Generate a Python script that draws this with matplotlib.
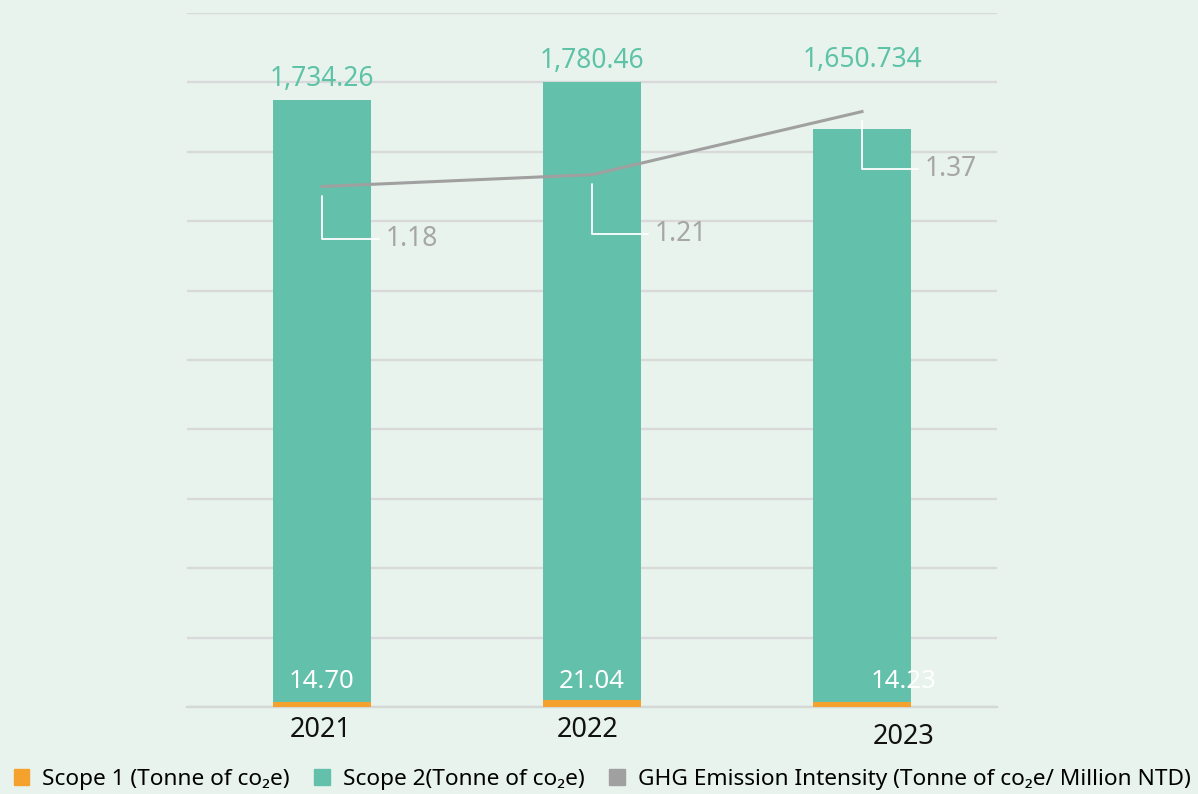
import matplotlib
matplotlib.use("Agg")
import matplotlib.pyplot as plt
from matplotlib.patches import Patch

plt.rcParams['font.family'] = ['Noto Sans', 'DejaVu Sans']

years = ["2021", "2022", "2023"]
scope1 = [14.70, 21.04, 14.23]
scope2 = [1734.26, 1780.46, 1650.734]
scope1_labels = ["14.70", "21.04", "14.23"]
scope2_labels = ["1,734.26", "1,780.46", "1,650.734"]
intensity = [1.18, 1.21, 1.37]
intensity_labels = ["1.18", "1.21", "1.37"]
legend_labels = ["Scope 1 (Tonne of co\u2082e)", "Scope 2(Tonne of co\u2082e)",
                 "GHG Emission Intensity (Tonne of co\u2082e/ Million NTD)"]

BG = "#e8f3ee"
TEAL = "#63c0aa"
TEAL_TXT = "#5ec3a6"
ORANGE = "#f4a12d"
GRAY = "#a0a0a0"
GRAY_TXT = "#a6a6a6"
GRID = "#d9d9d9"

fig = plt.figure(figsize=(11.98, 7.94), dpi=100, facecolor=BG)
ax = fig.add_axes([187/1198, 87/794, 810/1198, 694/794])
ax.set_facecolor(BG)

x = list(range(len(years)))
w = 0.36
ax.bar(x, scope1, width=w, color=ORANGE, zorder=3)
ax.bar(x, scope2, width=w, bottom=scope1, color=TEAL, zorder=3)

ax.set_xlim(-0.5, 2.5)
ax.set_ylim(0, 2000)
ax.set_yticks(range(0, 2001, 200))
ax.yaxis.grid(True, color=GRID, linewidth=1.7, zorder=0)
for s in ["top", "right", "left"]:
    ax.spines[s].set_visible(False)
ax.spines["bottom"].set_color("#d4d8d6")
ax.spines["bottom"].set_linewidth(1.7)

# total labels above bars
tot_off = [21, 21, 69]
for i in x:
    total = scope1[i] + scope2[i]
    ax.annotate(scope2_labels[i], xy=(i, total), xytext=(0, tot_off[i] * 0.72),
                textcoords="offset points", ha="center", va="center",
                fontsize=19, color=TEAL_TXT, zorder=5)

# scope 1 labels
s1_dx = [0, 0, 42]
for i in x:
    ax.annotate(scope1_labels[i], xy=(i, 0), xytext=(s1_dx[i] * 0.72, 25 * 0.72),
                textcoords="offset points", ha="center", va="center",
                fontsize=18.5, color="white", zorder=5)

# year labels
yr_dx = [-1, -4, 42]
yr_dy = [-23, -23, -30]
for i in x:
    ax.annotate(years[i], xy=(i, 0), xytext=(yr_dx[i] * 0.72, yr_dy[i] * 0.72),
                textcoords="offset points", ha="center", va="center",
                fontsize=19.5, color="#111111", annotation_clip=False)

# intensity line on secondary axis
ax2 = ax.twinx()
ax2.set_ylim(-0.14, 1.62)
ax2.axis("off")
ax2.plot(x, intensity, color=GRAY, linewidth=2.2, zorder=4)

ax.tick_params(axis="both", which="both", left=False, right=False, labelleft=False,
               labelright=False, bottom=False, labelbottom=False)

lab_off = [(64, -52), (63, -59), (63, -57)]
for i in x:
    dx, dy = lab_off[i]
    ax2.annotate(intensity_labels[i], xy=(i, intensity[i]),
                 xytext=(dx * 0.72, dy * 0.72), textcoords="offset points",
                 ha="left", va="center", fontsize=19, color=GRAY_TXT,
                 arrowprops=dict(arrowstyle="-", color="white", lw=1.3,
                                 shrinkA=3, shrinkB=7,
                                 connectionstyle="angle,angleA=0,angleB=90,rad=0"))

handles = [Patch(color=ORANGE), Patch(color=TEAL), Patch(color=GRAY)]
fig.legend(handles, legend_labels, loc="lower left", bbox_to_anchor=(0.0, -0.012),
           ncol=3, frameon=False, fontsize=16.3, handlelength=0.7, handleheight=0.7,
           handletextpad=0.55, columnspacing=1.1, borderaxespad=0.2)

fig.savefig("out.png", dpi=100, facecolor=BG)
